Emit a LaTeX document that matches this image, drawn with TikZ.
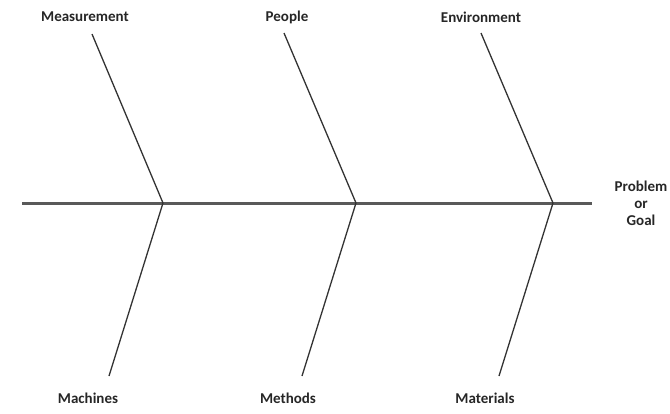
\documentclass[tikz,border=0pt]{standalone}
\usepackage{fontspec}
\setmainfont{Carlito}
\begin{document}
\begin{tikzpicture}[x=1pt,y=-1pt,
  lbl/.style={font=\bfseries\fontsize{15}{18}\selectfont, text=black!85, inner sep=0pt},
  spine/.style={draw=black!65, line width=3pt},
  bone/.style={draw=black!80, line width=1.3pt}]
\useasboundingbox (0,0) rectangle (670,413);
% spine
\coordinate (s0) at (22,203);
\coordinate (s1) at (592,203);
\draw[spine] (s0) -- (s1);
% junctions
\coordinate (j1) at (163,203);
\coordinate (j2) at (356,203);
\coordinate (j3) at (553,203);
% branch ends
\coordinate (t1) at (92,34);
\coordinate (t2) at (284,33);
\coordinate (t3) at (481,33);
\coordinate (b1) at (109,376);
\coordinate (b2) at (302,376);
\coordinate (b3) at (499,376);
\draw[bone] (t1) -- (j1) -- (b1);
\draw[bone] (t2) -- (j2) -- (b2);
\draw[bone] (t3) -- (j3) -- (b3);
% labels
\node[lbl] (measurement) at (85,17) {Measurement};
\node[lbl] (people) at (287,17) {People};
\node[lbl] (environment) at (481,17) {Environment};
\node[lbl] (machines) at (88,398) {Machines};
\node[lbl] (methods) at (288,398) {Methods};
\node[lbl] (materials) at (485,398) {Materials};
\node[lbl, align=center] (goal) at (641,203) {Problem\\[-1pt]or\\[-1pt]Goal};
\end{tikzpicture}
\end{document}
